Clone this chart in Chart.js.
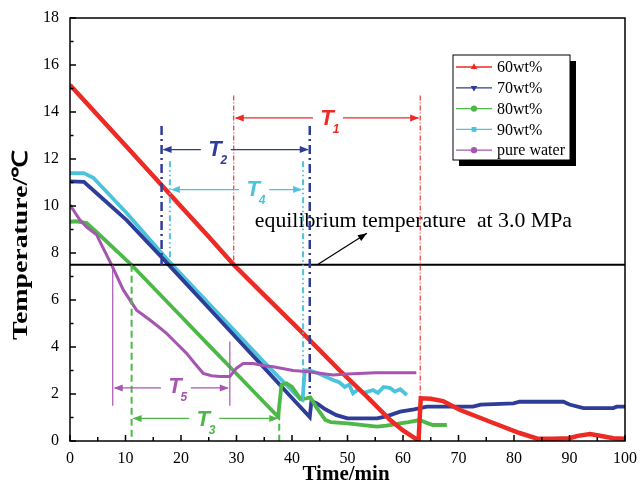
<!DOCTYPE html>
<html>
<head>
<meta charset="utf-8">
<script src="https://cdn.jsdelivr.net/npm/chart.js@4/dist/chart.umd.min.js"></script>
<style>
  html, body { margin: 0; padding: 0; background: #fff; }
</style>
</head>
<body>
<canvas id="c" width="640" height="492"></canvas>
<script>
// values (time in min, temperature in °C)
const redTime = [0, 5, 10, 16.2, 20, 25, 29.5, 35, 41.4, 48.6, 53.5, 57.7, 60, 62.8, 63.2, 65, 67.2, 70.3, 75.7, 81, 84.1, 87, 90, 91.5, 93.7, 95.5, 97.9, 100];
const redTemp = [15.15, 13.86, 12.57, 10.97, 9.98, 8.69, 7.5, 6.21, 4.72, 3.0, 1.89, 0.89, 0.45, 0.02, 1.82, 1.8, 1.7, 1.32, 0.82, 0.34, 0.11, 0.1, 0.12, 0.22, 0.3, 0.22, 0.12, 0.1];

const blueTime = [0, 2.5, 5, 10.2, 16.2, 20, 25, 30, 35, 40, 43.2, 43.5, 44.5, 46, 48, 50, 55.3, 57, 59.5, 62, 64.3, 72.6, 74, 79.9, 81, 88.9, 90, 92.5, 97.9, 98.5, 100];
const blueTemp = [11.05, 11.03, 10.5, 9.4, 7.9, 6.93, 5.66, 4.38, 3.11, 1.83, 1.02, 1.7, 1.6, 1.35, 1.1, 0.96, 0.96, 1.05, 1.25, 1.35, 1.46, 1.46, 1.55, 1.6, 1.67, 1.67, 1.55, 1.4, 1.4, 1.46, 1.46];

const greenTime = [0, 1, 3, 5, 11.1, 15, 20, 25, 30, 35, 37.5, 38.1, 39, 40, 41.5, 42.6, 43.3, 44.5, 46, 47, 50, 55.3, 57, 59.5, 61, 63, 64.5, 65.4, 67.9];
const greenTemp = [9.33, 9.35, 9.28, 8.84, 7.49, 6.53, 5.31, 4.08, 2.86, 1.64, 1.03, 2.38, 2.45, 2.3, 1.8, 1.81, 1.85, 1.4, 0.9, 0.8, 0.75, 0.61, 0.65, 0.75, 0.8, 0.89, 0.75, 0.68, 0.68];

const cyanTime = [0, 2.5, 4.2, 10.2, 18, 25, 30, 35, 41.4, 41.9, 42.3, 43.2, 45, 47.4, 48.5, 49.5, 50.3, 51, 52, 53, 54.6, 55.5, 56.5, 57.7, 58.5, 59.5, 60.7];
const cyanTemp = [11.4, 11.4, 11.2, 9.7, 7.6, 5.85, 4.6, 3.35, 1.8, 1.75, 3.0, 3.0, 2.85, 2.6, 2.5, 2.3, 2.4, 2.03, 2.2, 2.05, 2.17, 2.05, 2.3, 2.25, 2.1, 2.2, 1.96];

const waterTime = [0, 1.8, 3, 4.8, 6, 7.5, 9.6, 12, 14.4, 16, 17.4, 19, 21, 22.5, 24, 25.5, 27, 28.8, 30, 31.2, 33, 35, 36.6, 40.2, 43, 47.4, 50, 55, 62.4];
const waterTemp = [10.04, 9.4, 9.1, 8.77, 8.2, 7.49, 6.43, 5.57, 5.15, 4.85, 4.58, 4.2, 3.73, 3.3, 2.88, 2.78, 2.74, 2.74, 3.1, 3.3, 3.3, 3.2, 3.16, 3.0, 2.95, 2.81, 2.85, 2.9, 2.9];

const seriesNames = ['60wt%', '70wt%', '80wt%', '90wt%', 'pure water'];
const xTicks = [0, 10, 20, 30, 40, 50, 60, 70, 80, 90, 100];
const yTicks = [0, 2, 4, 6, 8, 10, 12, 14, 16, 18];
const eqTemp = 7.5;

const RED = '#ee2a24', BLUE = '#2e3d97', GREEN = '#4db848', CYAN = '#4cc3dc', MAG = '#a655b0';
const FONT = '"Liberation Serif", "Times New Roman", serif';
const SANS = '"Liberation Sans", Arial, sans-serif';

function pts(t, v) { return t.map((x, i) => ({ x: x, y: v[i] })); }

// interval markers T1..T5 (data coordinates)
const spans = [
  { sub: '1', color: RED,   dash: [5, 2, 1, 2], lw: 1.1, left: [29.5, 14.7, 7.5], right: [63.1, 14.7, 0], arrowY: 13.75, label: [46.3, 13.7] },
  { sub: '2', color: BLUE,  dash: [9, 4, 2, 4], lw: 2.5, left: [16.5, 13.4, 7.5], right: [43.2, 13.4, 2.0], arrowY: 12.4, label: [26.1, 12.4] },
  { sub: '4', color: CYAN,  dash: [6, 3, 1.5, 3, 1.5, 3], lw: 2, left: [18, 11.9, 7.5], right: [42, 11.9, 1.7], arrowY: 10.7, label: [33, 10.7] },
  { sub: '3', color: GREEN, dash: [7, 4], lw: 2, left: [11.1, 7.5, 0], right: [37.7, 1.2, 0], arrowY: 0.96, label: [24, 0.9] },
  { sub: '5', color: MAG,   dash: [], lw: 1.2, left: [7.7, 7.5, 1.5], right: [28.8, 4.23, 1.5], arrowY: 2.26, label: [18.9, 2.3] }
];

function head(ctx, x, y, dir) {
  ctx.beginPath();
  ctx.moveTo(x, y);
  ctx.lineTo(x - dir * 9, y - 3.5);
  ctx.lineTo(x - dir * 9, y + 3.5);
  ctx.closePath();
  ctx.fill();
}

const annot = {
  id: 'annot',
  afterDatasetsDraw(chart) {
    const ctx = chart.ctx, x = chart.scales.x, y = chart.scales.y, a = chart.chartArea;
    ctx.save();
    // equilibrium line
    ctx.strokeStyle = '#000';
    ctx.lineWidth = 2;
    ctx.beginPath();
    ctx.moveTo(a.left, y.getPixelForValue(eqTemp));
    ctx.lineTo(a.right, y.getPixelForValue(eqTemp));
    ctx.stroke();

    ctx.fillStyle = '#000';
    const eqText = 'equilibrium temperature  at 3.0 MPa';
    ctx.font = '19px ' + FONT;
    const fs = 19 * 317 / ctx.measureText(eqText).width;
    ctx.font = fs.toFixed(1) + 'px ' + FONT;
    ctx.textAlign = 'left';
    ctx.textBaseline = 'alphabetic';
    ctx.fillText(eqText, x.getPixelForValue(33.3), y.getPixelForValue(9.1));
    // pointer arrow
    const ax0 = x.getPixelForValue(44.7), ay0 = y.getPixelForValue(7.52);
    const ax1 = x.getPixelForValue(53.5), ay1 = y.getPixelForValue(8.84);
    ctx.lineWidth = 1.2;
    ctx.beginPath(); ctx.moveTo(ax0, ay0); ctx.lineTo(ax1, ay1); ctx.stroke();
    const ang = Math.atan2(ay1 - ay0, ax1 - ax0);
    ctx.translate(ax1, ay1); ctx.rotate(ang);
    head(ctx, 0, 0, 1);
    ctx.setTransform(1, 0, 0, 1, 0, 0);

    spans.forEach(s => {
      ctx.strokeStyle = s.color;
      ctx.fillStyle = s.color;
      ctx.lineWidth = s.lw;
      ctx.setLineDash(s.dash);
      [s.left, s.right].forEach(v => {
        const px = x.getPixelForValue(v[0]);
        ctx.beginPath();
        ctx.moveTo(px, y.getPixelForValue(v[1]));
        ctx.lineTo(px, y.getPixelForValue(v[2]));
        ctx.stroke();
      });
      ctx.setLineDash([]);
      const x0 = x.getPixelForValue(s.left[0]), x1 = x.getPixelForValue(s.right[0]);
      const ay = y.getPixelForValue(s.arrowY);
      const lx = x.getPixelForValue(s.label[0]), ly = y.getPixelForValue(s.label[1]);
      ctx.lineWidth = 1.3;
      ctx.beginPath();
      ctx.moveTo(x0 + 2, ay); ctx.lineTo(lx - 14, ay);
      ctx.moveTo(lx + 16, ay); ctx.lineTo(x1 - 2, ay);
      ctx.stroke();
      head(ctx, x0 + 1, ay, -1);
      head(ctx, x1 - 1, ay, 1);
      ctx.textAlign = 'center';
      ctx.textBaseline = 'middle';
      ctx.font = 'italic bold 22px ' + SANS;
      ctx.fillText('T', lx, ly);
      ctx.font = 'italic bold 12px ' + SANS;
      ctx.fillText(s.sub, lx + 9, ly + 11);
    });
    ctx.restore();
  },
  afterDraw(chart) {
    const ctx = chart.ctx, x = chart.scales.x, y = chart.scales.y, a = chart.chartArea;
    ctx.save();
    ctx.strokeStyle = '#000';
    ctx.lineWidth = 1.5;
    ctx.strokeRect(a.left, a.top, a.right - a.left, a.bottom - a.top);
    // inward ticks
    ctx.beginPath();
    for (let v = 0; v <= 18; v += 1) {
      const py = y.getPixelForValue(v), len = v % 2 === 0 ? 6 : 3.5;
      ctx.moveTo(a.left, py); ctx.lineTo(a.left + len, py);
    }
    for (let v = 0; v <= 100; v += 5) {
      const px = x.getPixelForValue(v), len = v % 10 === 0 ? 6 : 4;
      ctx.moveTo(px, a.bottom); ctx.lineTo(px, a.bottom - len);
    }
    ctx.stroke();

    // axis titles
    ctx.fillStyle = '#000';
    ctx.font = 'bold 21px ' + FONT;
    ctx.textAlign = 'center';
    ctx.textBaseline = 'middle';
    ctx.fillText('Time/min', 346, 475);
    ctx.translate(22, 245);
    ctx.rotate(-Math.PI / 2);
    const yt = 'Temperature/\u2103';
    const w = ctx.measureText(yt).width;
    ctx.scale(190 / w, 1);
    ctx.fillText(yt, 0, 0);
    ctx.setTransform(1, 0, 0, 1, 0, 0);

    // legend with shadow
    const lx = 453, ly = 55, lw = 117, lh = 105;
    ctx.fillStyle = '#000';
    ctx.fillRect(lx + 6, ly + 6, lw, lh);
    ctx.fillStyle = '#fff';
    ctx.fillRect(lx, ly, lw, lh);
    ctx.lineWidth = 1;
    ctx.strokeRect(lx, ly, lw, lh);
    const styles = ['triangle', 'triangle', 'circle', 'rect', 'circle'];
    const rots = [0, 180, 0, 0, 0];
    chart.data.datasets.forEach((ds, i) => {
      const ry = 67 + i * 20.8;
      ctx.strokeStyle = ds.borderColor;
      ctx.fillStyle = ds.borderColor;
      ctx.lineWidth = 1.3;
      ctx.beginPath(); ctx.moveTo(456, ry); ctx.lineTo(492, ry); ctx.stroke();
      Chart.helpers.drawPoint(ctx, { pointStyle: styles[i], radius: 2.5, rotation: rots[i], borderWidth: 1 }, 474, ry);
      ctx.fillStyle = '#000';
      ctx.font = '16px ' + FONT;
      ctx.textAlign = 'left';
      ctx.textBaseline = 'middle';
      ctx.fillText(ds.label, 497, ry + 1);
    });
    ctx.restore();
  }
};

const colors = [RED, BLUE, GREEN, CYAN, MAG];
const widths = [4.5, 3.8, 3.8, 3.8, 3];
const series = [pts(redTime, redTemp), pts(blueTime, blueTemp), pts(greenTime, greenTemp), pts(cyanTime, cyanTemp), pts(waterTime, waterTemp)];
// draw order: cyan under blue like the figure
const order = [1, 3, 2, 4, 0];

new Chart(document.getElementById('c'), {
  type: 'line',
  data: {
    datasets: series.map((d, i) => ({
      label: seriesNames[i],
      data: d,
      borderColor: colors[i],
      backgroundColor: colors[i],
      borderWidth: widths[i],
      pointRadius: 0,
      tension: 0,
      fill: false,
      order: order[i]
    }))
  },
  options: {
    responsive: false,
    animation: false,
    devicePixelRatio: 1,
    layout: { padding: { top: 18, right: 15, left: 0, bottom: 0 } },
    plugins: { legend: { display: false }, tooltip: { enabled: false } },
    scales: {
      x: {
        type: 'linear', min: 0, max: 100,
        afterFit: s => { s.height = 51; s.paddingLeft = 0; s.paddingRight = 0; },
        afterBuildTicks: s => { s.ticks = xTicks.map(v => ({ value: v })); },
        grid: { display: false, drawTicks: false },
        border: { display: false },
        ticks: { font: { family: FONT, size: 16 }, color: '#000', padding: 8, maxRotation: 0 }
      },
      y: {
        type: 'linear', min: 0, max: 18,
        afterFit: s => { s.width = 70; s.paddingTop = 0; s.paddingBottom = 0; },
        afterBuildTicks: s => { s.ticks = yTicks.map(v => ({ value: v })); },
        grid: { display: false, drawTicks: false },
        border: { display: false },
        ticks: { font: { family: FONT, size: 16 }, color: '#000', padding: 11 }
      }
    }
  },
  plugins: [annot]
});
</script>
</body>
</html>
